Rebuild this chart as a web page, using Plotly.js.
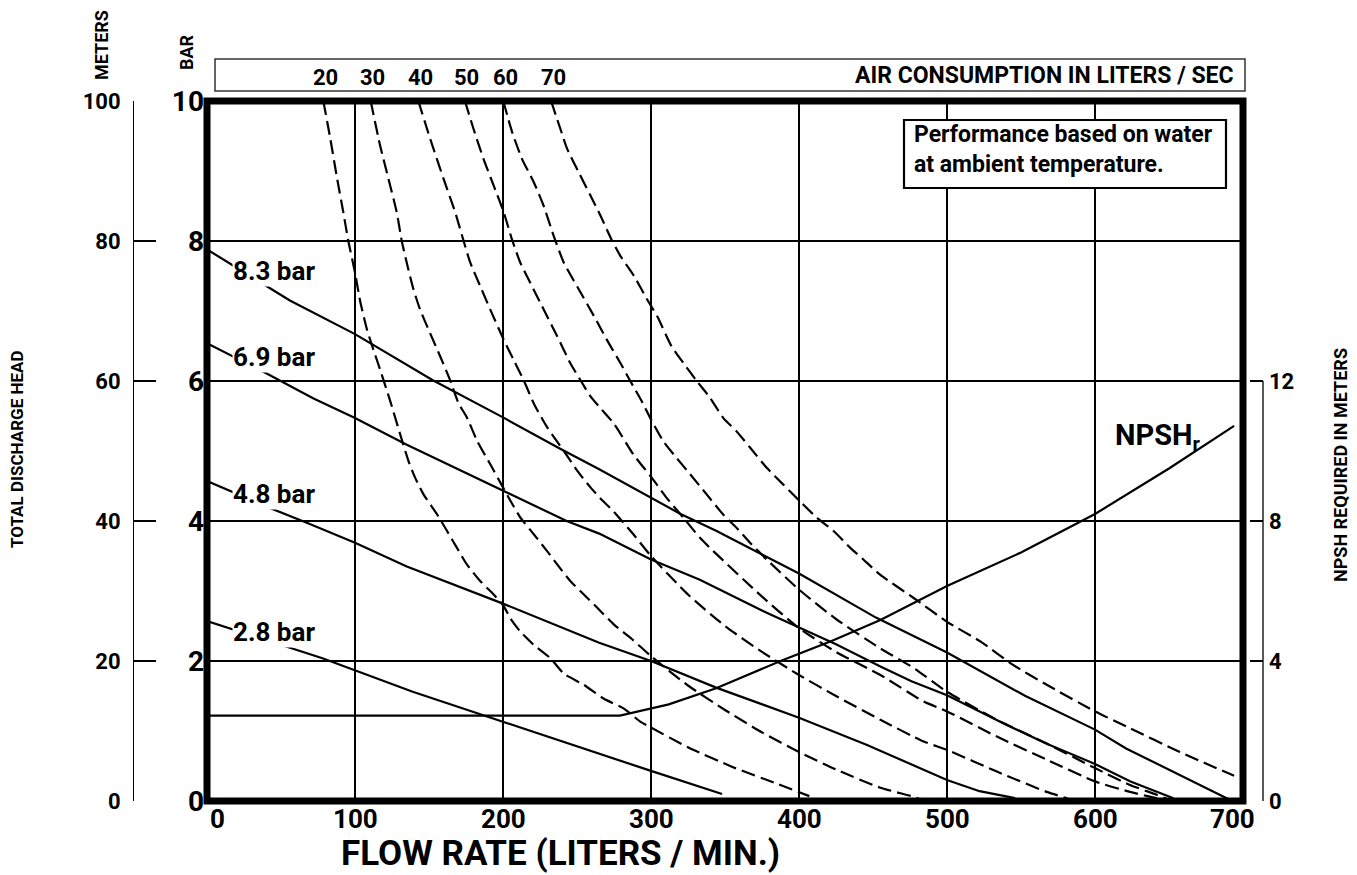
<!DOCTYPE html>
<html>
<head>
<meta charset="utf-8">
<script src="https://cdn.plot.ly/plotly-3.0.1.min.js"></script>
<style>
html,body{margin:0;padding:0;background:#fff;}
#chart{width:1357px;height:875px;}
</style>
</head>
<body>
<div id="chart"></div>
<script>
// ---------- DATA ----------
// Flow rate axis ticks (liters / min)
const flowTicks = [0, 100, 200, 300, 400, 500, 600, 700];
// Pressure axis ticks (bar), head axis (meters), NPSH axis (meters)
const barTicks = [0, 2, 4, 6, 8, 10];
const meterTicks = [0, 20, 40, 60, 80, 100];
const npshTicks = [0, 4, 8, 12];

// Air inlet pressure curves (solid) : flow (l/min) vs discharge pressure (bar)
const p83Flow = [0, 56, 100, 152.6, 200, 238, 265, 300, 320, 344, 381.5, 400, 452, 500, 553, 600, 621, 657, 690];
const p83Bar  = [7.88, 7.15, 6.67, 6.01, 5.48, 5.04, 4.74, 4.33, 4.10, 3.86, 3.45, 3.25, 2.62, 2.12, 1.50, 1.02, 0.75, 0.37, 0.03];
const p69Flow = [0, 40, 72, 100, 135, 200, 243, 265, 300, 333, 380, 425, 455, 476, 500, 540, 567, 600, 624, 653];
const p69Bar  = [6.54, 6.11, 5.75, 5.47, 5.09, 4.44, 4.0, 3.82, 3.45, 3.16, 2.67, 2.24, 1.92, 1.71, 1.51, 1.09, 0.82, 0.53, 0.28, 0.04];
const p48Flow = [0, 42, 67, 100, 135, 200, 265, 300, 344, 400, 446, 500, 522, 546];
const p48Bar  = [4.57, 4.19, 3.98, 3.69, 3.35, 2.82, 2.26, 2.0, 1.62, 1.19, 0.80, 0.30, 0.14, 0.04];
const p28Flow = [0, 44, 78, 139, 200, 229, 265, 300, 348];
const p28Bar  = [2.57, 2.27, 2.04, 1.56, 1.13, 0.92, 0.67, 0.43, 0.10];
const pressureNames = ['8.3 bar', '6.9 bar', '4.8 bar', '2.8 bar'];

// Air consumption curves (dashed) : liters / sec
const airNames = ['20', '30', '40', '50', '60', '70'];
const air20Flow = [78.6, 83, 87.6, 92.1, 95.5, 100, 103.4, 107.9, 111.3, 117, 123.7, 130.5, 136.1, 140.6, 146.3, 155.3, 162.1, 168.8, 175.6, 184.7, 193.7, 200, 205, 211.7, 220.8, 232, 241.1, 254.6, 268.2, 281.7, 293, 300, 325.6, 355.8, 386, 407];
const air20Bar  = [10, 9.5, 8.93, 8.41, 8.0, 7.55, 7.15, 6.75, 6.52, 6.16, 5.72, 5.24, 4.86, 4.62, 4.38, 4.10, 3.86, 3.62, 3.38, 3.14, 2.95, 2.80, 2.61, 2.42, 2.23, 2.04, 1.82, 1.66, 1.46, 1.32, 1.13, 1.05, 0.76, 0.48, 0.24, 0.07];
const air30Flow = [110.6, 117, 122.6, 128.2, 131.6, 136.1, 139.5, 144, 150.8, 157.6, 164.3, 170, 175.6, 182.4, 191.4, 200, 205, 211.7, 220.8, 229.8, 236.6, 245.6, 254.6, 263.7, 275, 286.2, 300.5, 325, 350, 375, 400, 425, 455, 477.5, 482];
const air30Bar  = [10, 9.36, 8.89, 8.41, 8.0, 7.59, 7.31, 7.02, 6.68, 6.35, 6.01, 5.68, 5.48, 5.15, 4.81, 4.48, 4.29, 4.05, 3.81, 3.57, 3.38, 3.14, 2.95, 2.76, 2.52, 2.33, 2.06, 1.65, 1.30, 0.98, 0.70, 0.45, 0.19, 0.06, 0.02];
const air40Flow = [142.8, 150.8, 159.8, 167.7, 173.4, 177.9, 184.7, 191.4, 200.5, 207.2, 214, 220.8, 229.8, 241.1, 250.1, 259.1, 265.5, 274.5, 288.1, 300, 325, 350, 375, 400, 425, 455, 484.3, 500, 533.7, 567.4, 580.9, 586];
const air40Bar  = [10, 9.46, 8.89, 8.41, 8.0, 7.69, 7.35, 7.02, 6.59, 6.30, 6.01, 5.68, 5.34, 5.0, 4.72, 4.48, 4.33, 4.14, 3.81, 3.50, 2.95, 2.50, 2.13, 1.80, 1.50, 1.16, 0.85, 0.73, 0.42, 0.13, 0.04, 0.0];
const air50Flow = [174.3, 180.1, 186.9, 193.7, 200.5, 206.1, 211.7, 218.5, 227.5, 236.6, 245.6, 252.4, 259.1, 265.5, 275, 288.1, 300.5, 310.6, 321.8, 333.1, 342.1, 375, 400, 425, 455, 484.3, 500, 533.7, 567.4, 600, 623.6, 641.6, 648];
const air50Bar  = [10, 9.6, 9.17, 8.79, 8.41, 8.02, 7.69, 7.40, 7.02, 6.64, 6.25, 6.01, 5.78, 5.62, 5.39, 4.95, 4.62, 4.33, 4.05, 3.76, 3.57, 2.92, 2.47, 2.13, 1.80, 1.42, 1.28, 0.92, 0.59, 0.28, 0.13, 0.04, 0.0];
const air60Flow = [200.2, 206.1, 212.9, 220.8, 227.5, 234.3, 241.1, 250.1, 261.4, 270.4, 279.5, 286, 294, 300, 308.3, 317.3, 326.4, 337.6, 348.9, 357.9, 366.9, 378.2, 400, 425, 455, 477.5, 500, 533.7, 567.4, 600, 623.6, 641.6, 652];
const air60Bar  = [10, 9.56, 9.17, 8.84, 8.50, 8.07, 7.69, 7.35, 6.93, 6.58, 6.25, 6.0, 5.7, 5.45, 5.14, 4.90, 4.67, 4.38, 4.09, 3.90, 3.69, 3.45, 3.02, 2.60, 2.18, 1.90, 1.56, 1.16, 0.82, 0.47, 0.23, 0.09, 0.0];
const air70Flow = [232.5, 238.8, 243.3, 251.2, 259.1, 265.9, 273.8, 279.5, 288.5, 297.5, 304.3, 314, 321.8, 330.9, 339.9, 348.9, 357.9, 366.9, 378.2, 389.4, 400.7, 411.9, 423.2, 434.5, 443.5, 455, 477.5, 500, 522.5, 544.9, 567.4, 600, 623.6, 657.3, 694];
const air70Bar  = [10, 9.6, 9.32, 8.98, 8.65, 8.36, 8.0, 7.78, 7.50, 7.16, 6.92, 6.49, 6.26, 6.0, 5.76, 5.47, 5.28, 5.05, 4.76, 4.52, 4.28, 4.05, 3.86, 3.62, 3.45, 3.23, 2.90, 2.56, 2.28, 1.94, 1.66, 1.28, 1.04, 0.70, 0.36];

// NPSH required (meters)
const npshFlow = [0, 279, 312, 344, 387.5, 422, 455, 500, 550, 600, 650, 694];
const npshM    = [2.44, 2.44, 2.76, 3.22, 4.0, 4.57, 5.17, 6.14, 7.1, 8.2, 9.5, 10.72];

// ---------- STYLE ----------
const FONT = "Roboto, 'Liberation Sans', sans-serif";
const f = (size) => ({family: FONT, size: size, color: '#000', weight: 'bold'});

const pressureSets = [[p83Flow, p83Bar], [p69Flow, p69Bar], [p48Flow, p48Bar], [p28Flow, p28Bar]];
const airSets = [[air20Flow, air20Bar], [air30Flow, air30Bar], [air40Flow, air40Bar], [air50Flow, air50Bar], [air60Flow, air60Bar], [air70Flow, air70Bar]];

const traces = [];
airSets.forEach((s, i) => traces.push({
  x: s[0], y: s[1], type: 'scatter', mode: 'lines', name: airNames[i] + ' l/s',
  line: {color: '#000', width: 2.2, dash: '14px,6px', shape: 'spline', smoothing: 0.6}, hoverinfo: 'skip'
}));
pressureSets.forEach((s, i) => traces.push({
  x: s[0], y: s[1], type: 'scatter', mode: 'lines', name: pressureNames[i],
  line: {color: '#000', width: 2.2}, hoverinfo: 'skip'
}));
traces.push({
  x: npshFlow, y: npshM, yaxis: 'y3', type: 'scatter', mode: 'lines', name: 'NPSHr',
  line: {color: '#000', width: 2.2}, hoverinfo: 'skip'
});
// meters axis (1 bar = 10 m) needs a trace to be drawn
traces.push({x: [0, 700], y: [0, 100], yaxis: 'y2', type: 'scatter', mode: 'none', hoverinfo: 'skip', showlegend: false});

const W = 1036, H = 700; // plot area size in px, used for paper positioning
const px = (dx) => dx / W;
const py = (dy) => dy / H;

const annotations = [];
// x tick labels
flowTicks.forEach((v, i) => annotations.push({
  x: v, xref: 'x', y: -py(18), yref: 'paper', text: String(v), showarrow: false,
  xanchor: 'center', yanchor: 'middle', font: f(26), borderpad: 0,
  xshift: i === 0 ? 10 : (i === flowTicks.length - 1 ? -11 : 0)
}));
// pressure curve labels
const labelY = [7.57, 6.34, 4.39, 2.42];
pressureNames.forEach((t, i) => annotations.push({
  x: 17, xref: 'x', y: labelY[i], yref: 'y', text: t, showarrow: false,
  xanchor: 'left', yanchor: 'middle', font: f(26), bgcolor: '#fff', borderpad: 0
}));
// air consumption labels at the top of each dashed curve
airNames.forEach((t, i) => annotations.push({
  x: airSets[i][0][0], xref: 'x', y: 1 + py(24), yref: 'paper', text: t, showarrow: false,
  xanchor: 'center', yanchor: 'middle', font: f(22), xshift: 2
}));
annotations.push({
  x: 1 - px(7), xref: 'paper', y: 1 + py(25), yref: 'paper', text: 'AIR CONSUMPTION IN LITERS / SEC',
  showarrow: false, xanchor: 'right', yanchor: 'middle', font: f(23)
});
annotations.push({
  x: px(705), xref: 'paper', y: 1 - py(48), yref: 'paper',
  text: 'Performance based on water<br>at ambient temperature.', align: 'left',
  showarrow: false, xanchor: 'left', yanchor: 'middle', font: f(23)
});
annotations.push({
  x: 612, xref: 'x', y: 5.2, yref: 'y', text: 'NPSH<sub>r</sub>', showarrow: false,
  xanchor: 'left', yanchor: 'middle', font: f(29)
});
annotations.push({
  x: px(353), xref: 'paper', y: -py(74), yref: 'paper', text: 'FLOW RATE (LITERS / MIN.)',
  showarrow: false, xanchor: 'center', yanchor: 'bottom', font: f(35), borderpad: 0
});
annotations.push({
  x: -px(190), xref: 'paper', y: py(351), yref: 'paper', text: 'TOTAL DISCHARGE HEAD',
  showarrow: false, textangle: -90, xanchor: 'center', yanchor: 'middle', font: f(17)
});
annotations.push({
  x: -px(105), xref: 'paper', y: 1 + py(56), yref: 'paper', text: 'METERS',
  showarrow: false, textangle: -90, xanchor: 'center', yanchor: 'middle', font: f(18)
});
annotations.push({
  x: -px(20), xref: 'paper', y: 1 + py(49), yref: 'paper', text: 'BAR',
  showarrow: false, textangle: -90, xanchor: 'center', yanchor: 'middle', font: f(18)
});
annotations.push({
  x: 1 + px(97), xref: 'paper', y: py(336), yref: 'paper', text: 'NPSH REQUIRED IN METERS',
  showarrow: false, textangle: -90, xanchor: 'center', yanchor: 'middle', font: f(18)
});

const shapes = [
  // thin grey page rule at the very top
  {type: 'line', xref: 'paper', yref: 'paper', x0: -px(197), x1: 1 + px(114), y0: 1 + py(799), y1: 1 + py(799),
   line: {color: '#bdbdbd', width: 2}},
  // air consumption band
  {type: 'rect', xref: 'paper', yref: 'paper', x0: px(8), x1: 1 + px(2), y0: 1 + py(10), y1: 1 + py(42),
   line: {color: '#333', width: 1.5}, fillcolor: 'rgba(0,0,0,0)'},
  // note box
  {type: 'rect', xref: 'paper', yref: 'paper', x0: px(697), x1: px(1019), y0: 1 - py(87), y1: 1 - py(19),
   layer: 'above', line: {color: '#000', width: 2.2}, fillcolor: '#fff'},
  // thick frame
  {type: 'rect', xref: 'paper', yref: 'paper', x0: 0, x1: 1, y0: 0, y1: 1, layer: 'above',
   line: {color: '#000', width: 7}, fillcolor: 'rgba(0,0,0,0)'},
  // NPSH axis line (0..12 m)
  {type: 'line', xref: 'paper', yref: 'y3', x0: 1 + px(20), x1: 1 + px(20), y0: npshTicks[0], y1: npshTicks[npshTicks.length - 1],
   line: {color: '#000', width: 1.3}}
];

const layout = {
  width: 1357, height: 875,
  margin: {l: 207, r: 114, t: 101, b: 74, pad: 0},
  paper_bgcolor: '#fff', plot_bgcolor: '#fff',
  showlegend: false,
  font: f(20),
  xaxis: {
    range: [0, 700], tickvals: flowTicks, showticklabels: false, ticks: '',
    showgrid: true, gridcolor: '#000', gridwidth: 1.2, zeroline: false, showline: false, fixedrange: true
  },
  yaxis: {
    range: [0, 10], tickvals: barTicks, ticktext: barTicks.map(String), ticks: '',
    tickfont: f(28), ticklabelstandoff: 2,
    showgrid: true, gridcolor: '#000', gridwidth: 1.2, zeroline: false, showline: false, fixedrange: true
  },
  yaxis2: {
    overlaying: 'y', anchor: 'free', position: 0, shift: -74, side: 'left',
    range: [0, 100], tickvals: meterTicks, ticks: 'inside', ticklen: 22, tickwidth: 1.3, tickcolor: '#000',
    showline: true, linecolor: '#000', linewidth: 1.3, showgrid: false, zeroline: false,
    tickfont: f(22), ticklabelstandoff: 8, fixedrange: true
  },
  yaxis3: {
    overlaying: 'y', anchor: 'free', position: 1, shift: 20, side: 'right',
    range: [0, 20], tickvals: npshTicks, ticks: 'inside', ticklen: 13, tickwidth: 1.3, tickcolor: '#000',
    showline: false, showgrid: false, zeroline: false,
    tickfont: f(22), ticklabelstandoff: 5, fixedrange: true
  },
  annotations: annotations,
  shapes: shapes
};

Plotly.newPlot('chart', traces, layout, {displayModeBar: false, staticPlot: true});
</script>
</body>
</html>
